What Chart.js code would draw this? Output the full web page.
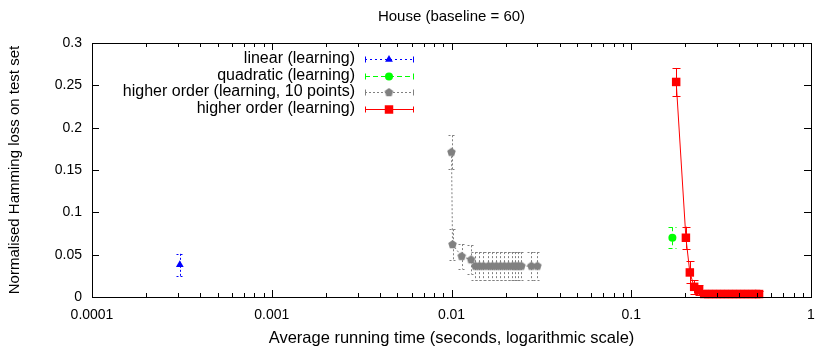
<!DOCTYPE html>
<html>
<head>
<meta charset="utf-8">
<script src="https://cdn.jsdelivr.net/npm/chart.js@4/dist/chart.umd.min.js"></script>
<style>
  html, body { margin: 0; padding: 0; background: #fff; }
</style>
</head>
<body>
<canvas id="chart" width="817" height="347"></canvas>
<script>
// ---- data ----
const xTicks = [0.0001, 0.001, 0.01, 0.1, 1];
const yTicks = [0, 0.05, 0.1, 0.15, 0.2, 0.25, 0.3];

const linearTime = [0.000308];
const linearLoss = [0.038];
const linearErr = [0.013];

const quadTime = [0.1694];
const quadLoss = [0.070];
const quadErr = [0.0124];

const hoTenTime = [0.0100, 0.01013, 0.0114, 0.01285, 0.01359, 0.01430, 0.01506, 0.01605, 0.01690,
  0.01778, 0.01872, 0.01970, 0.02074, 0.02183, 0.02268, 0.02356, 0.02448, 0.02783, 0.03005];
const hoTenLoss = [0.171, 0.062, 0.048, 0.044, 0.0365, 0.0365, 0.0365, 0.0365, 0.0365,
  0.0365, 0.0365, 0.0365, 0.0365, 0.0365, 0.0365, 0.0365, 0.0365, 0.0365, 0.0365];
const hoTenErr = [0.020, 0.018, 0.0145, 0.017, 0.0165, 0.0165, 0.0165, 0.0165, 0.0165,
  0.0165, 0.0165, 0.0165, 0.0165, 0.0165, 0.0165, 0.0165, 0.0165, 0.0165, 0.0165];

const hoTime = [0.1778, 0.2014, 0.2118, 0.2239, 0.2385, 0.2544, 0.2678, 0.2818, 0.2967, 0.3123,
  0.3286, 0.3459, 0.3641, 0.3831, 0.4033, 0.4244, 0.4467, 0.4702, 0.4949, 0.5141];
const hoLoss = [0.254, 0.070, 0.029, 0.012, 0.008, 0.0035, 0.0035, 0.0035, 0.0035, 0.0035,
  0.0035, 0.0035, 0.0035, 0.0035, 0.0035, 0.0035, 0.0035, 0.0035, 0.0035, 0.0035];
const hoErr = [0.0165, 0.013, 0.013, 0.008, 0.006, 0.003, 0.003, 0.003, 0.003, 0.003,
  0.003, 0.003, 0.003, 0.003, 0.003, 0.003, 0.003, 0.003, 0.003, 0.003];

const FONT = '"Liberation Sans", Arial, Helvetica, sans-serif';

// filled pentagon marker (gnuplot style)
function pentagon(color, r) {
  const c = document.createElement('canvas');
  c.width = c.height = Math.ceil(r * 2 + 2);
  const g = c.getContext('2d');
  const cx = c.width / 2, cy = c.height / 2;
  g.fillStyle = color;
  g.beginPath();
  for (let i = 0; i < 5; i++) {
    const a = -Math.PI / 2 + i * 2 * Math.PI / 5;
    const px = cx + r * Math.cos(a), py = cy + r * Math.sin(a);
    if (i === 0) g.moveTo(px, py); else g.lineTo(px, py);
  }
  g.closePath();
  g.fill();
  return c;
}

function pts(xs, ys) {
  return xs.map((t, i) => ({ x: t, y: ys[i] }));
}

const datasets = [
  {
    label: 'linear (learning)',
    data: pts(linearTime, linearLoss),
    err: linearErr, errDash: [2, 2], cap: 4,
    showLine: false,
    pointStyle: 'triangle', pointRadius: 4.5,
    backgroundColor: '#0000ff', borderColor: '#0000ff', pointBorderWidth: 0,
    lineDash: [2, 3]
  },
  {
    label: 'quadratic (learning)',
    data: pts(quadTime, quadLoss),
    err: quadErr, errDash: [4, 3], cap: 4,
    showLine: false,
    pointStyle: 'circle', pointRadius: 4,
    backgroundColor: '#00ff00', borderColor: '#00ff00', pointBorderWidth: 0,
    lineDash: [5, 3]
  },
  {
    label: 'higher order (learning, 10 points)',
    data: pts(hoTenTime, hoTenLoss),
    err: hoTenErr, errDash: [2, 2], cap: 4,
    showLine: true, borderDash: [2, 2], borderWidth: 1,
    pointStyle: pentagon('#808080', 4.5), pointRadius: 4.5,
    backgroundColor: '#808080', borderColor: '#808080', pointBorderWidth: 0,
    lineDash: [2, 2]
  },
  {
    label: 'higher order (learning)',
    data: pts(hoTime, hoLoss),
    err: hoErr, errDash: [], cap: 4,
    showLine: true, borderWidth: 1,
    pointStyle: 'rect', pointRadius: 6,
    backgroundColor: '#ff0000', borderColor: '#ff0000', pointBorderWidth: 0,
    lineDash: []
  }
];
datasets.forEach(d => { d.tension = 0; d.clip = false; d.pointHoverRadius = d.pointRadius; });

// vertical error bars with caps, placed through the scales
const errorBars = {
  id: 'errorBars',
  beforeDatasetsDraw(chart) {
    const ctx = chart.ctx, ys = chart.scales.y;
    chart.data.datasets.forEach((ds, di) => {
      const meta = chart.getDatasetMeta(di);
      ctx.save();
      ctx.strokeStyle = ds.borderColor;
      ctx.lineWidth = 1;
      ctx.setLineDash(ds.errDash);
      meta.data.forEach((el, i) => {
        const v = ds.data[i].y, e = ds.err[i];
        const x = Math.round(el.x) + 0.5;
        const y1 = ys.getPixelForValue(v + e);
        const y2 = ys.getPixelForValue(Math.max(v - e, 0));
        ctx.beginPath();
        ctx.moveTo(x, y1); ctx.lineTo(x, y2);
        ctx.moveTo(x - ds.cap, Math.round(y1) + 0.5); ctx.lineTo(x + ds.cap, Math.round(y1) + 0.5);
        ctx.moveTo(x - ds.cap, Math.round(y2) + 0.5); ctx.lineTo(x + ds.cap, Math.round(y2) + 0.5);
        ctx.stroke();
      });
      ctx.restore();
    });
  }
};

// gnuplot-like frame, inward ticks, title and key
const frame = {
  id: 'frame',
  afterDraw(chart) {
    const ctx = chart.ctx;
    const { left, right, top, bottom } = chart.chartArea;
    const xs = chart.scales.x, ys = chart.scales.y;
    ctx.save();
    ctx.strokeStyle = '#000';
    ctx.lineWidth = 1;
    ctx.setLineDash([]);
    ctx.beginPath();
    for (let d = 0; d < xTicks.length; d++) {
      for (let m = 1; m <= 9; m++) {
        const v = xTicks[d] * m;
        if (v > xTicks[xTicks.length - 1] * 1.0001) break;
        const px = Math.round(xs.getPixelForValue(v)) + 0.5;
        const len = m === 1 ? 7 : 4;
        ctx.moveTo(px, bottom); ctx.lineTo(px, bottom - len);
        ctx.moveTo(px, top); ctx.lineTo(px, top + len);
      }
    }
    yTicks.forEach(v => {
      const py = Math.round(ys.getPixelForValue(v)) + 0.5;
      ctx.moveTo(left, py); ctx.lineTo(left + 7, py);
      ctx.moveTo(right, py); ctx.lineTo(right - 7, py);
    });
    ctx.stroke();
    ctx.strokeRect(Math.round(left) + 0.5, Math.round(top) + 0.5,
      Math.round(right - left), Math.round(bottom - top));

    // title
    ctx.fillStyle = '#000';
    ctx.font = '15px ' + FONT;
    ctx.textAlign = 'center';
    ctx.textBaseline = 'middle';
    ctx.fillText('House (baseline = 60)', (left + right) / 2, 17);

    // key
    ctx.font = '16px ' + FONT;
    const textRight = 355, sx1 = 365, sx2 = 413, mx = 389;
    chart.data.datasets.forEach((ds, i) => {
      const y = 59 + i * 16.5;
      ctx.fillStyle = '#000';
      ctx.textAlign = 'right';
      ctx.fillText(ds.label, textRight, y);
      const yy = Math.round(y) + 0.5;
      ctx.strokeStyle = ds.borderColor;
      ctx.setLineDash(ds.lineDash);
      ctx.beginPath();
      ctx.moveTo(sx1, yy); ctx.lineTo(sx2, yy);
      ctx.stroke();
      ctx.setLineDash([]);
      ctx.beginPath();
      ctx.moveTo(sx1 + 0.5, yy - 3); ctx.lineTo(sx1 + 0.5, yy + 3);
      ctx.moveTo(sx2 + 0.5, yy - 3); ctx.lineTo(sx2 + 0.5, yy + 3);
      ctx.stroke();
      ctx.fillStyle = ds.backgroundColor;
      Chart.helpers.drawPoint(ctx, { pointStyle: ds.pointStyle, radius: ds.pointRadius, rotation: 0, borderWidth: 0 }, mx, yy);
    });
    ctx.restore();
  }
};

new Chart(document.getElementById('chart'), {
  type: 'line',
  data: { datasets },
  options: {
    responsive: false,
    animation: false,
    devicePixelRatio: 1,
    layout: { padding: { top: 43, right: -3, left: 0, bottom: 0 } },
    plugins: { legend: { display: false }, tooltip: { enabled: false }, title: { display: false } },
    scales: {
      x: {
        type: 'logarithmic',
        min: xTicks[0],
        max: xTicks[xTicks.length - 1],
        grid: { display: false, drawTicks: false },
        border: { display: false },
        afterBuildTicks: s => { s.ticks = xTicks.map(v => ({ value: v, major: true })); },
        afterFit: s => { s.height = 50; s.paddingLeft = 0; s.paddingRight = 0; },
        ticks: {
          autoSkip: false, maxRotation: 0, padding: 10, color: '#000',
          font: { family: FONT, size: 14 },
          callback: v => String(v)
        },
        title: {
          display: true, text: 'Average running time (seconds, logarithmic scale)',
          color: '#000', font: { family: FONT, size: 16.5 }, padding: { top: 0, bottom: -1 }
        }
      },
      y: {
        min: 0, max: 0.3,
        grid: { display: false, drawTicks: false },
        border: { display: false },
        afterBuildTicks: s => { s.ticks = yTicks.map(v => ({ value: v })); },
        afterFit: s => { s.width = 92; s.paddingTop = 0; s.paddingBottom = 0; },
        ticks: {
          padding: 10, color: '#000',
          font: { family: FONT, size: 14 },
          callback: v => String(v)
        },
        title: {
          display: true, text: 'Normalised Hamming loss on test set',
          color: '#000', font: { family: FONT, size: 15 }, padding: { top: 6, bottom: 0 }
        }
      }
    }
  },
  plugins: [errorBars, frame]
});
</script>
</body>
</html>
